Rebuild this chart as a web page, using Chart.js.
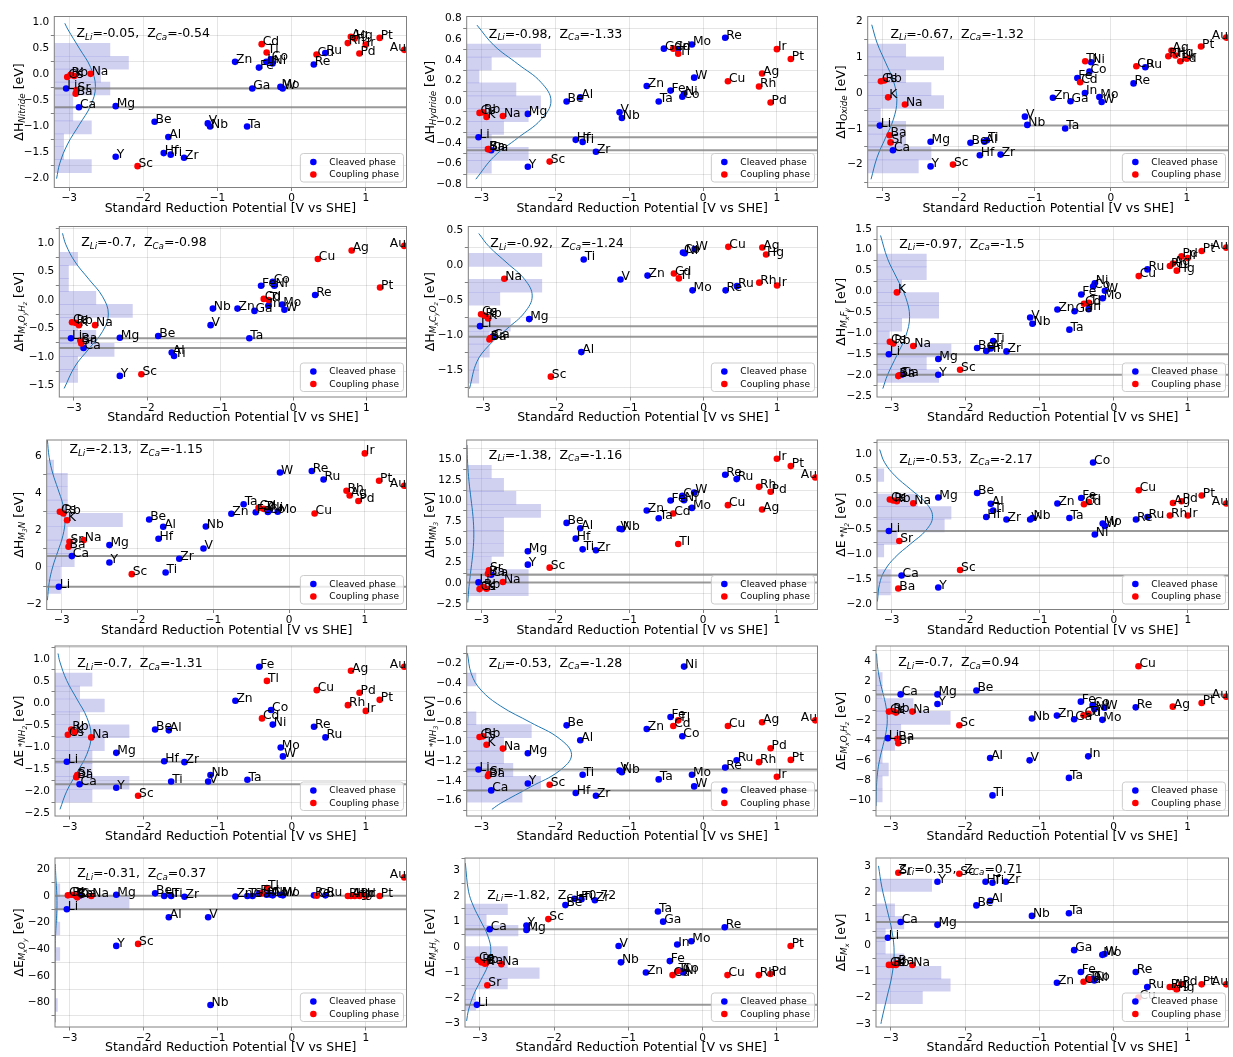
<!DOCTYPE html>
<html>
<head>
<meta charset="utf-8">
<title>Formation and adsorption energies vs standard reduction potential</title>
<script src="https://cdn.jsdelivr.net/npm/chart.js@4.4.0/dist/chart.umd.min.js"></script>
<style>
  html, body { margin: 0; padding: 0; background: #ffffff; }
  #figure { position: relative; width: 1233px; height: 1057px; overflow: hidden; background: #ffffff; }
  #figure canvas { position: absolute; }
</style>
</head>
<body>
<div id="figure"></div>
<script>
const FONT = "'DejaVu Sans', 'Liberation Sans', sans-serif";

// ---- shared element data -------------------------------------------------
const elementNames = ['Li','Cs','Rb','K','Ba','Sr','Ca','Na','Mg','Y','Sc','Be','Hf','Al','Ti','Zr','V','Nb','Zn','Ta','Ga','Fe','Cd','In','Tl','Co','Ni','Mo','W','Re','Cu','Ru','Rh','Ag','Hg','Pd','Ir','Pt','Au'];
// standard reduction potential, V vs SHE
const reductionPotentials = [-3.04,-3.026,-2.98,-2.931,-2.912,-2.899,-2.868,-2.71,-2.372,-2.372,-2.077,-1.847,-1.724,-1.662,-1.63,-1.45,-1.13,-1.099,-0.762,-0.6,-0.53,-0.44,-0.403,-0.34,-0.336,-0.28,-0.257,-0.15,-0.12,0.3,0.337,0.455,0.758,0.7996,0.851,0.915,1.0,1.188,1.52];
const couplingPhaseElements = ['Cs','Rb','K','Na','Sr','Ba','Sc','Cd','Tl','Cu','Ag','Rh','Pd','Ir','Pt','Au','Hg'];

// ---- per-quantity energies (eV) ------------------------------------------
const dHNitride = {Li:-0.27,Cs:-0.05,Rb:-0.01,K:-0.03,Sr:-0.30,Ba:-0.37,Na:0.01,Ca:-0.63,Mg:-0.61,Y:-1.58,Sc:-1.76,Be:-0.91,Hf:-1.51,Al:-1.2,Ti:-1.54,Zr:-1.6,V:-0.94,Nb:-1.0,Zn:0.24,Ta:-1.0,Ga:-0.27,Fe:0.13,Cd:0.58,In:0.24,Tl:0.42,Co:0.29,Ni:0.21,Mo:-0.24,W:-0.27,Re:0.19,Cu:0.38,Ru:0.41,Rh:0.6,Ag:0.72,Hg:0.69,Pd:0.4,Ir:0.57,Pt:0.7,Au:0.47};
const dHHydride = {Li:-0.345,Cs:-0.11,Rb:-0.105,K:-0.15,Na:-0.14,Mg:-0.12,Sr:-0.46,Ba:-0.46,Ca:-0.47,Y:-0.63,Sc:-0.58,Be:0.0,Al:0.04,Hf:-0.37,Ti:-0.39,Zr:-0.485,V:-0.105,Nb:-0.16,Zn:0.15,Ta:0.0,Fe:0.105,Co:0.045,Ni:0.075,W:0.23,Ga:0.51,Cd:0.51,In:0.505,Tl:0.46,Mo:0.55,Re:0.615,Cu:0.195,Ag:0.27,Rh:0.145,Pd:-0.01,Ir:0.505,Pt:0.41};
const dHOxide = {Cs:0.33,Rb:0.35,K:-0.12,Na:-0.32,Li:-0.91,Ba:-1.18,Sr:-1.38,Ca:-1.6,Mg:-1.36,Y:-2.05,Sc:-2.0,Be:-1.39,Al:-1.36,Ti:-1.32,Hf:-1.74,Zr:-1.72,V:-0.66,Nb:-0.89,Ta:-0.99,Zn:-0.13,Ga:-0.23,In:0.0,Fe:0.42,Cd:0.3,Co:0.6,Tl:0.89,Ni:0.86,Mo:-0.11,W:-0.25,Re:0.27,Cu:0.75,Ru:0.72,Rh:1.03,Ag:1.19,Hg:1.05,Pd:0.89,Ir:0.96,Pt:1.3,Au:1.55};
const dHOxyhydride = {Cs:-0.39,Rb:-0.4,K:-0.44,Na:-0.44,Li:-0.67,Ba:-0.71,Sr:-0.76,Ca:-0.84,Mg:-0.66,Be:-0.63,Y:-1.33,Sc:-1.3,Al:-0.92,Ti:-0.98,V:-0.44,Nb:-0.15,Zn:-0.15,Ga:-0.19,Ta:-0.67,Fe:0.25,Co:0.32,Ni:0.25,Cd:0.02,Tl:0.0,In:-0.1,Mo:-0.08,W:-0.17,Re:0.09,Cu:0.72,Ag:0.87,Pt:0.22,Au:0.95};
const dHCarbonate = {Cs:-0.7,Rb:-0.72,K:-0.76,Na:-0.195,Li:-0.87,Sr:-1.04,Ba:-1.06,Ca:-1.02,Mg:-0.77,Ti:0.08,Al:-1.24,Sc:-1.59,V:-0.205,Zn:-0.15,Cd:-0.12,Tl:-0.19,Co:0.18,Ni:0.17,W:0.23,Mo:-0.36,Re:-0.36,Ru:-0.3,Cu:0.26,Rh:-0.25,Ir:-0.29,Ag:0.25,Hg:0.15};
const dHFluoride = {K:-0.02,Cs:-1.2,Rb:-1.24,Na:-1.3,Li:-1.5,Mg:-1.61,Sr:-2.0,Ba:-2.02,Ca:-1.99,Y:-1.99,Sc:-1.87,Be:-1.35,Hf:-1.42,Al:-1.36,Ti:-1.18,Zr:-1.43,V:-0.62,Nb:-0.77,Ta:-0.91,Zn:-0.43,Ga:-0.47,Fe:-0.07,Cd:-0.29,Tl:-0.27,In:-0.42,Ni:0.2,Co:0.12,W:0.02,Mo:-0.16,Ru:0.53,Cu:0.37,Rh:0.61,Ag:0.67,Hg:0.5,Pd:0.84,Ir:0.8,Pt:0.97,Au:1.05};
const dHM3N = {Cs:2.99,Rb:2.9,K:2.54,Sr:1.38,Na:1.47,Ba:1.11,Ca:0.61,Li:-1.04,Mg:1.2,Y:0.27,Sc:-0.36,Be:2.58,Al:2.19,Hf:1.54,Ti:-0.27,Zr:0.47,V:1.02,Nb:2.2,Zn:2.89,Ta:3.4,Fe:2.97,Cd:3.2,Tl:3.15,Co:2.98,Ni:3.08,Mo:3.0,W:5.1,Re:5.18,Ru:4.73,Cu:2.9,Ir:6.13,Rh:4.12,Ag:3.87,Pd:3.57,Pt:4.66,Au:4.39};
const dHMN3 = {Li:0.12,Cs:-0.69,Rb:-0.44,K:-0.65,Sr:1.57,Ba:1.17,Ca:1.05,Na:0.16,Mg:3.87,Y:2.26,Sc:1.9,Be:7.3,Al:6.65,Hf:5.4,Ti:4.11,Zr:4.0,V:6.6,Nb:6.53,Zn:8.79,Ta:7.86,Fe:10.0,Co:10.56,Ni:10.04,W:10.97,Cd:8.43,Tl:4.76,Mo:9.11,Re:13.1,Ru:12.58,Cu:9.44,Rh:11.65,Pd:11.05,Ag:8.91,Ir:15.04,Pt:14.15,Au:12.78};
const dEN2 = {Cs:0.1,Rb:0.08,K:0.065,Na:0.026,Li:-0.53,Sr:-0.73,Ca:-1.42,Ba:-1.68,Mg:0.14,Y:-1.66,Sc:-1.31,Be:0.23,Al:0.013,Ti:-0.12,Hf:-0.25,Zr:-0.3,V:-0.3,Nb:-0.27,Zn:0.02,Ta:-0.27,Fe:0.13,Cd:0.006,Tl:0.05,Co:0.84,Ni:-0.6,Mo:-0.38,W:-0.43,Re:-0.3,Ru:-0.25,Cu:0.285,Rh:-0.22,Ir:-0.22,Ag:0.03,Pd:0.065,Pt:0.18,Au:0.02};
const dENH2 = {Cs:-0.72,Rb:-0.6,K:-0.66,Na:-0.78,Li:-1.33,Sr:-1.63,Ba:-1.68,Ca:-1.84,Mg:-1.13,Y:-1.92,Sc:-2.1,Be:-0.6,Al:-0.62,Hf:-1.32,Zr:-1.34,Ti:-1.78,V:-1.78,Nb:-1.63,Zn:0.05,Ta:-1.74,Fe:0.82,Tl:0.5,Cd:-0.35,Co:-0.16,Ni:-0.49,Mo:-1.01,W:-1.21,Re:-0.54,Ru:-0.78,Cu:0.29,Rh:-0.05,Ir:-0.18,Ag:0.73,Pd:0.23,Pt:0.07,Au:0.82};
const dENH3 = {Cs:-0.951,Rb:-0.945,K:-1.03,Na:-1.07,Li:-1.283,Ba:-1.35,Sr:-1.33,Ca:-1.496,Mg:-1.117,Y:-1.425,Sc:-1.439,Be:-0.833,Al:-0.985,Ti:-1.337,Hf:-1.523,Zr:-1.55,V:-1.293,Nb:-1.31,Zn:-0.87,Ta:-1.384,Fe:-0.748,Tl:-0.782,Cd:-0.84,Co:-0.944,Ni:-0.234,Mo:-1.337,W:-1.455,Re:-1.263,Ru:-1.188,Cu:-0.84,Ag:-0.802,Rh:-1.208,Pd:-1.066,Ir:-1.357,Pt:-1.185,Au:-0.782};
const dEOxyhydride = {Cs:-1.1,Rb:-1.05,K:-1.2,Na:-1.1,Li:-3.77,Ba:-3.83,Sr:-4.27,Ca:0.63,Mg:0.63,Y:-0.33,Be:1.03,Sc:-2.47,Al:-5.77,Ti:-9.53,V:-6.0,Nb:-1.8,Zn:-1.5,Ta:-7.77,Ga:-1.87,Fe:-0.1,In:-5.6,Cd:-1.47,Tl:-1.33,Co:-0.43,Ni:-0.87,W:-0.7,Mo:-1.93,Re:-0.67,Ag:-0.6,Pt:-0.23,Au:0.4,Cu:3.47};
const dEOxide = {Li:-10,Cs:0.5,Rb:1,K:0.5,Ba:0,Sr:-1,Ca:0.3,Na:0,Mg:1,Y:-37.5,Sc:-36,Be:2,Hf:0,Al:-16,Ti:0,Zr:-0.5,V:-16,Nb:-82,Zn:-0.3,Ta:0,Ga:0,Fe:2,Cd:2,In:1,Tl:6,Co:1,Ni:0.5,Mo:1,W:0.5,Re:0.5,Cu:0.3,Ru:0.5,Rh:0,Ag:0,Hg:0,Pd:0,Ir:0,Pt:0,Au:14};
const dEHydride = {Li:-2.27,Ca:0.7,Cs:-0.5,Rb:-0.6,K:-0.65,Ba:-0.62,Na:-0.67,Sr:-1.5,Mg:0.67,Y:0.85,Sc:1.1,Be:1.65,Hf:1.9,Ti:1.88,Zr:1.84,Ta:1.4,Ga:1.0,V:0.04,Nb:-0.6,Zn:-1.0,In:0.1,Mo:0.23,Fe:-0.55,Cd:-1.1,Tl:-0.95,Co:-0.95,Ni:-1.0,Re:0.78,Cu:-1.1,Rh:-1.1,Pd:-1.06,Pt:0.04};
const dEMetal = {Ti:2.36,Sr:2.74,Sc:2.7,Y:2.4,Hf:2.4,Zr:2.4,Be:1.5,Al:1.67,Ca:0.87,Mg:0.76,Li:0.27,Ba:-0.7,Cs:-0.76,Rb:-0.76,K:-0.76,Na:-0.76,Nb:1.1,Ta:1.2,Ga:-0.2,Mo:-0.38,W:-0.35,Zn:-1.44,Fe:-1.03,Cd:-1.4,Tl:-1.3,Co:-1.3,Ni:-1.35,Re:-1.03,Cu:-2.0,Ru:-1.6,Rh:-1.6,Ag:-1.6,Pd:-1.5,Hg:-1.7,Pt:-1.5,Au:-1.5};

// ---- fitted normal curves: [energy, density] ------------------------------
const fitNitride = [[0.98,0.139],[0.87,0.176],[0.502,0.329],[0.135,0.479],[-0.233,0.543],[-0.601,0.479],[-0.968,0.329],[-1.336,0.176],[-1.703,0.073],[-2.0,0.030]];
const fitHydride = [[0.737,0.136],[0.54,0.363],[0.362,0.677],[0.184,0.986],[0.005,1.117],[-0.174,0.986],[-0.352,0.677],[-0.531,0.363],[-0.75,0.121]];
const fitOxide = [[1.91,0.052],[1.395,0.122],[0.864,0.228],[0.333,0.332],[-0.198,0.376],[-0.729,0.332],[-1.26,0.228],[-1.791,0.122],[-2.41,0.043]];
const fitOxyhydride = [[1.17,0.043],[0.969,0.089],[0.666,0.213],[0.362,0.398],[0.059,0.580],[-0.245,0.657],[-0.549,0.580],[-0.852,0.398],[-1.156,0.213],[-1.55,0.065]];
const fitCarbonate = [[0.45,0.14],[0.264,0.276],[0.03,0.516],[-0.205,0.751],[-0.439,0.851],[-0.674,0.751],[-0.908,0.516],[-1.143,0.276],[-1.377,0.115],[-1.76,0.016]];
const fitFluoride = [[1.34,0.047],[0.784,0.140],[0.322,0.262],[-0.141,0.380],[-0.603,0.431],[-1.066,0.380],[-1.528,0.262],[-1.991,0.140],[-2.32,0.077]];
const fitM3N = [[6.85,0.009],[5.915,0.032],[5.073,0.077],[4.231,0.144],[3.389,0.209],[2.547,0.237],[1.705,0.209],[0.863,0.144],[0.021,0.077],[-0.821,0.032],[-1.76,0.009]];
const fitMN3 = [[16.7,0.0038],[14.42,0.0128],[12.3,0.0306],[10.19,0.0572],[8.08,0.0832],[5.96,0.0943],[3.85,0.0832],[1.73,0.0572],[-0.38,0.0306],[-2.3,0.014]];
const fitN2 = [[1.1,0.035],[0.844,0.099],[0.573,0.239],[0.301,0.446],[0.03,0.649],[-0.242,0.735],[-0.514,0.649],[-0.785,0.446],[-1.057,0.239],[-1.328,0.099],[-1.6,0.032],[-1.94,0.0055]];
const fitNH2 = [[1.12,0.040],[0.927,0.065],[0.509,0.155],[0.091,0.289],[-0.327,0.421],[-0.745,0.477],[-1.163,0.421],[-1.581,0.289],[-1.999,0.155],[-2.41,0.066]];
const fitNH3 = [[-0.099,0.010],[-0.307,0.061],[-0.472,0.188],[-0.637,0.451],[-0.802,0.843],[-0.967,1.227],[-1.132,1.39],[-1.297,1.227],[-1.462,0.843],[-1.627,0.451],[-1.689,0.334]];
const fitOxyhydrideE = [[4.73,0.007],[3.474,0.0201],[2.133,0.0483],[0.791,0.0902],[-0.55,0.1312],[-1.892,0.1487],[-3.234,0.1312],[-4.575,0.0902],[-5.917,0.0483],[-7.258,0.0201],[-8.6,0.0065],[-10.6,0.0007]];
const fitOxideE = [[24,0.004],[17.4,0.0086],[9.8,0.016],[2.3,0.0233],[-5.3,0.0264],[-12.9,0.0233],[-20.4,0.016],[-28,0.0086],[-35.5,0.0036],[-50.6,0.0003],[-95,0.0]];
const fitHydrideE = [[3.3,0.0045],[2.196,0.0461],[1.611,0.1107],[1.027,0.2068],[0.442,0.301],[-0.142,0.341],[-0.727,0.301],[-1.311,0.2068],[-1.896,0.1107],[-2.48,0.0461],[-2.9,0.0211]];
const fitMetal = [[3.0,0.033],[2.187,0.0776],[1.354,0.145],[0.521,0.211],[-0.313,0.239],[-1.147,0.211],[-1.98,0.145],[-2.814,0.0776],[-3.0,0.065]];

// ---- z-scores of Li and Ca in each distribution --------------------------
const zScoreLi = [-0.05,-0.98,-0.67,-0.7,-0.92,-0.97,-2.13,-1.38,-0.53,-0.7,-0.53,-0.7,-0.31,-1.82,0.35];
const zScoreCa = [-0.54,-1.33,-1.32,-0.98,-1.24,-1.5,-1.15,-1.16,-2.17,-1.31,-1.28,0.94,0.37,0.72,0.71];

// ---- axis labels (text, level: 0 normal, 1 subscript, 2 sub-subscript) ---
const sub = (q, parts) => [[q, 0], ...parts, [' [eV]', 0]];
const panels = [
  { values: dHNitride,     fit: fitNitride,     title: sub('ΔH', [['Nitride',1]]),                                   yMin: -2.17, yMax: 1.11,  yStep: 0.5, yDec: 1 },
  { values: dHHydride,     fit: fitHydride,     title: sub('ΔH', [['Hydride',1]]),                                   yMin: -0.83, yMax: 0.82,  yStep: 0.2, yDec: 1 },
  { values: dHOxide,       fit: fitOxide,       title: sub('ΔH', [['Oxide',1]]),                                     yMin: -2.64, yMax: 2.14,  yStep: 1,   yDec: 0 },
  { values: dHOxyhydride,  fit: fitOxyhydride,  title: sub('ΔH', [['M',1],['x',2],['O',1],['y',2],['H',1],['z',2]]), yMin: -1.70, yMax: 1.29,  yStep: 0.5, yDec: 1 },
  { values: dHCarbonate,   fit: fitCarbonate,   title: sub('ΔH', [['M',1],['x',2],['C',1],['y',2],['O',1],['z',2]]), yMin: -1.88, yMax: 0.55,  yStep: 0.5, yDec: 1 },
  { values: dHFluoride,    fit: fitFluoride,    title: sub('ΔH', [['M',1],['x',2],['F',1],['y',2]]),                 yMin: -2.52, yMax: 1.555, yStep: 0.5, yDec: 1 },
  { values: dHM3N,         fit: fitM3N,         title: sub('ΔH', [['M',1],['3',2],['N',1]]),                         yMin: -2.26, yMax: 6.85,  yStep: 2,   yDec: 0 },
  { values: dHMN3,         fit: fitMN3,         title: sub('ΔH', [['MN',1],['3',2]]),                                yMin: -3.15, yMax: 17.3,  yStep: 2.5, yDec: 1 },
  { values: dEN2,          fit: fitN2,          title: sub('ΔE', [[' *N',1],['2',2]]),                               yMin: -2.10, yMax: 1.29,  yStep: 0.5, yDec: 1 },
  { values: dENH2,         fit: fitNH2,         title: sub('ΔE', [[' *NH',1],['2',2]]),                              yMin: -2.56, yMax: 1.29,  yStep: 0.5, yDec: 1 },
  { values: dENH3,         fit: fitNH3,         title: sub('ΔE', [[' *NH',1],['3',2]]),                              yMin: -1.757,yMax: -0.024,yStep: 0.2, yDec: 1 },
  { values: dEOxyhydride,  fit: fitOxyhydrideE, title: sub('ΔE', [['M',1],['x',2],['O',1],['y',2],['H',1],['z',2]]), yMin: -11.6, yMax: 5.5,   yStep: 2,   yDec: 0 },
  { values: dEOxide,       fit: fitOxideE,      title: sub('ΔE', [['M',1],['x',2],['O',1],['y',2]]),                 yMin: -98.5, yMax: 28.6,  yStep: 20,  yDec: 0 },
  { values: dEHydride,     fit: fitHydrideE,    title: sub('ΔE', [['M',1],['x',2],['H',1],['y',2]]),                 yMin: -3.14, yMax: 3.5,   yStep: 1,   yDec: 0 },
  { values: dEMetal,       fit: fitMetal,       title: sub('ΔE', [['M',1],['x',2]]),                                 yMin: -3.12, yMax: 3.3,   yStep: 1,   yDec: 0 }
];

// ---- layout & style -------------------------------------------------------
const X_MIN = -3.2, X_MAX = 1.55;
const NOTE_X = -2.9;
const HIST_BINS = 10;
const HIST_SPAN = 4.75;      // hidden count axis: max count * this
const DENSITY_AXIS_MAX = 4.65;
const CELL_W = 411;
const rowPlotTop = [16.5, 226.5, 440, 646, 858];
const rowPlotBottom = [187.5, 397, 609.5, 816, 1027];
const plotLeft = [54.3, 55.7, 45.7, 59.3, 57.3, 55, 46.7, 55.7, 55, 55, 55.7, 54, 55, 54, 54];
const PLOT_RIGHT_GAP = 4.5;
const X_BAND = 29;
const Y_TITLE_X = 18;
const TICK_SIZE = 10.5, TITLE_SIZE = 12.5, LABEL_SIZE = 12.3, NOTE_SIZE = 12.5, LEGEND_SIZE = 9;
const POINT_R = 3.3;
const BLUE = '#0000ff', RED = '#ff0000';
const GRID = 'rgba(0,0,0,0.13)', FRAME = '#808080';
const REF_LINE = 'rgba(128,128,128,0.8)';
const HIST_FILL = 'rgba(120,120,215,0.35)';
const FIT_LINE = '#1f77b4';
const LEVEL_SCALE = [1, 0.7, 0.5];
const LEVEL_SHIFT = [0, 0.22, 0.36];

Chart.defaults.font.family = FONT;

function fmtTick(v, dec) {
  return v.toFixed(dec).replace('-', '\u2212');
}

function richWidth(ctx, segs, size) {
  let w = 0;
  for (const [t, lv] of segs) {
    ctx.font = (lv > 0 ? 'italic ' : '') + (size * LEVEL_SCALE[lv]) + 'px ' + FONT;
    w += ctx.measureText(t).width;
  }
  return w;
}
function drawRich(ctx, segs, x, y, size) {
  let cx = x;
  ctx.textAlign = 'left';
  ctx.textBaseline = 'alphabetic';
  for (const [t, lv] of segs) {
    ctx.font = (lv > 0 ? 'italic ' : '') + (size * LEVEL_SCALE[lv]) + 'px ' + FONT;
    ctx.fillText(t, cx, y + size * LEVEL_SHIFT[lv]);
    cx += ctx.measureText(t).width;
  }
}

function makeDecor(p, idx) {
  return {
    id: 'panelDecor',
    afterDatasetsDraw(chart) {
      const { ctx, chartArea: a, scales } = chart;
      ctx.save();
      // axes frame
      ctx.strokeStyle = FRAME;
      ctx.lineWidth = 1;
      ctx.strokeRect(a.left, a.top, a.right - a.left, a.bottom - a.top);
      // element labels beside each point (kept inside the right edge of the axes)
      ctx.fillStyle = '#000';
      ctx.font = LABEL_SIZE + 'px ' + FONT;
      ctx.textBaseline = 'alphabetic';
      chart.data.datasets.forEach((ds, i) => {
        if (!ds.elementLabels) return;
        chart.getDatasetMeta(i).data.forEach((pt, j) => {
          const name = ds.data[j].name;
          const w = ctx.measureText(name).width;
          if (pt.x + 1 + w > a.right) {
            ctx.textAlign = 'right';
            ctx.fillText(name, a.right - 0.5, pt.y + 1);
          } else {
            ctx.textAlign = 'left';
            ctx.fillText(name, pt.x + 1, pt.y + 1);
          }
        });
      });
      // z-score note, placed at the level of the highest value
      const top = Math.max(...Object.values(p.values));
      drawRich(ctx, [['Z', 0], ['Li', 1], ['=' + zScoreLi[idx] + ',  Z', 0], ['Ca', 1], ['=' + zScoreCa[idx], 0]],
        scales.x.getPixelForValue(NOTE_X), scales.y.getPixelForValue(top), NOTE_SIZE);
      // legend, lower right
      ctx.font = LEGEND_SIZE + 'px ' + FONT;
      const entries = [['Cleaved phase', BLUE], ['Coupling phase', RED]];
      const tw = Math.max(...entries.map(e => ctx.measureText(e[0]).width));
      const bw = tw + 33.5, bh = 28.5;
      const bx = a.right - 3 - bw, by = a.bottom - 5.5 - bh;
      ctx.beginPath();
      ctx.roundRect(bx, by, bw, bh, 3);
      ctx.fillStyle = 'rgba(255,255,255,0.8)';
      ctx.fill();
      ctx.strokeStyle = '#cccccc';
      ctx.lineWidth = 1;
      ctx.stroke();
      entries.forEach(([txt, col], k) => {
        const cy = by + 8.5 + k * 12.5;
        ctx.beginPath();
        ctx.arc(bx + 13, cy, POINT_R, 0, Math.PI * 2);
        ctx.fillStyle = col;
        ctx.fill();
        ctx.fillStyle = '#000';
        ctx.textAlign = 'left';
        ctx.textBaseline = 'middle';
        ctx.fillText(txt, bx + 29, cy + 0.5);
      });
      ctx.restore();
    },
    afterDraw(chart) {
      const { ctx, chartArea: a } = chart;
      ctx.save();
      ctx.fillStyle = '#000';
      ctx.translate(Y_TITLE_X, (a.top + a.bottom) / 2);
      ctx.rotate(-Math.PI / 2);
      const w = richWidth(ctx, p.title, TITLE_SIZE);
      drawRich(ctx, p.title, -w / 2, TITLE_SIZE * 0.36, TITLE_SIZE);
      ctx.restore();
    }
  };
}

function buildPanel(p, idx) {
  const row = Math.floor(idx / 3), col = idx % 3;
  const canvasTop = Math.floor(rowPlotTop[row] - 12);
  const padTop = rowPlotTop[row] - canvasTop;
  const canvasH = Math.round(rowPlotBottom[row] - canvasTop + X_BAND);
  const band = canvasH - (rowPlotBottom[row] - canvasTop);

  const canvas = document.createElement('canvas');
  canvas.width = CELL_W;
  canvas.height = canvasH;
  canvas.style.left = (col * CELL_W) + 'px';
  canvas.style.top = canvasTop + 'px';
  canvas.style.width = CELL_W + 'px';
  canvas.style.height = canvasH + 'px';
  document.getElementById('figure').appendChild(canvas);

  const names = Object.keys(p.values);
  const pts = names.map(n => ({ x: reductionPotentials[elementNames.indexOf(n)], y: p.values[n], name: n }));
  const cleaved = pts.filter(d => !couplingPhaseElements.includes(d.name));
  const coupling = pts.filter(d => couplingPhaseElements.includes(d.name));

  // histogram of the plotted values (bars centred on lower bin edges)
  const vals = names.map(n => p.values[n]);
  const lo = Math.min(...vals), hi = Math.max(...vals);
  const bw = (hi - lo) / HIST_BINS;
  const counts = new Array(HIST_BINS).fill(0);
  vals.forEach(v => { let b = Math.floor((v - lo) / bw); if (b >= HIST_BINS) b = HIST_BINS - 1; counts[b]++; });
  const histData = counts.map((c, i) => ({ x: c, y: lo + i * bw }));

  const liVal = p.values.Li, caVal = p.values.Ca;
  const tickFont = { size: TICK_SIZE, family: FONT };

  new Chart(canvas, {
    type: 'scatter',
    data: {
      datasets: [
        { type: 'scatter', data: coupling, backgroundColor: RED, borderWidth: 0, pointRadius: POINT_R, order: 1, elementLabels: true },
        { type: 'scatter', data: cleaved, backgroundColor: BLUE, borderWidth: 0, pointRadius: POINT_R, order: 2, elementLabels: true },
        { type: 'line', data: [{ x: X_MIN, y: liVal }, { x: X_MAX, y: liVal }], borderColor: REF_LINE, borderWidth: 2, pointRadius: 0, order: 3 },
        { type: 'line', data: [{ x: X_MIN, y: caVal }, { x: X_MAX, y: caVal }], borderColor: REF_LINE, borderWidth: 2, pointRadius: 0, order: 3 },
        { type: 'line', xAxisID: 'xg', data: p.fit.map(([y, d]) => ({ x: d, y })), borderColor: FIT_LINE, borderWidth: 1, pointRadius: 0, tension: 0.4, order: 4 },
        { type: 'bar', indexAxis: 'y', xAxisID: 'xh', yAxisID: 'y', data: histData, backgroundColor: HIST_FILL, borderWidth: 0,
          barPercentage: 1, categoryPercentage: 1, grouped: false, order: 5 }
      ]
    },
    options: {
      responsive: false,
      animation: false,
      devicePixelRatio: 1,
      events: [],
      layout: { padding: { top: padTop, right: PLOT_RIGHT_GAP, bottom: 0, left: 0 } },
      plugins: { legend: { display: false }, tooltip: { enabled: false } },
      scales: {
        x: {
          type: 'linear', min: X_MIN, max: X_MAX, offset: false,
          afterFit: s => { s.height = band; },
          border: { display: false },
          grid: { color: GRID, lineWidth: 0.8, drawTicks: true, tickLength: 3.5, tickColor: FRAME, tickWidth: 1 },
          ticks: { stepSize: 1, includeBounds: false, autoSkip: false, maxRotation: 0, padding: 1, color: '#000', font: tickFont,
                   callback: v => fmtTick(v, 0) },
          title: { display: true, text: 'Standard Reduction Potential [V vs SHE]', color: '#000',
                   font: { size: TITLE_SIZE, family: FONT }, padding: { top: 0, bottom: 1 } }
        },
        y: {
          type: 'linear', min: p.yMin, max: p.yMax, offset: false,
          afterFit: s => { s.width = plotLeft[idx]; },
          border: { display: false },
          grid: { color: GRID, lineWidth: 0.8, drawTicks: true, tickLength: 3.5, tickColor: FRAME, tickWidth: 1 },
          ticks: { stepSize: p.yStep, includeBounds: false, autoSkip: false, padding: 1.5, color: '#000', font: tickFont,
                   callback: v => fmtTick(v, p.yDec) }
        },
        xh: { type: 'linear', axis: 'x', display: false, min: 0, max: Math.max(...counts) * HIST_SPAN, offset: false },
        xg: { type: 'linear', axis: 'x', display: false, min: 0, max: DENSITY_AXIS_MAX, offset: false }
      }
    },
    plugins: [makeDecor(p, idx)]
  });
}

panels.forEach(buildPanel);
</script>
</body>
</html>
